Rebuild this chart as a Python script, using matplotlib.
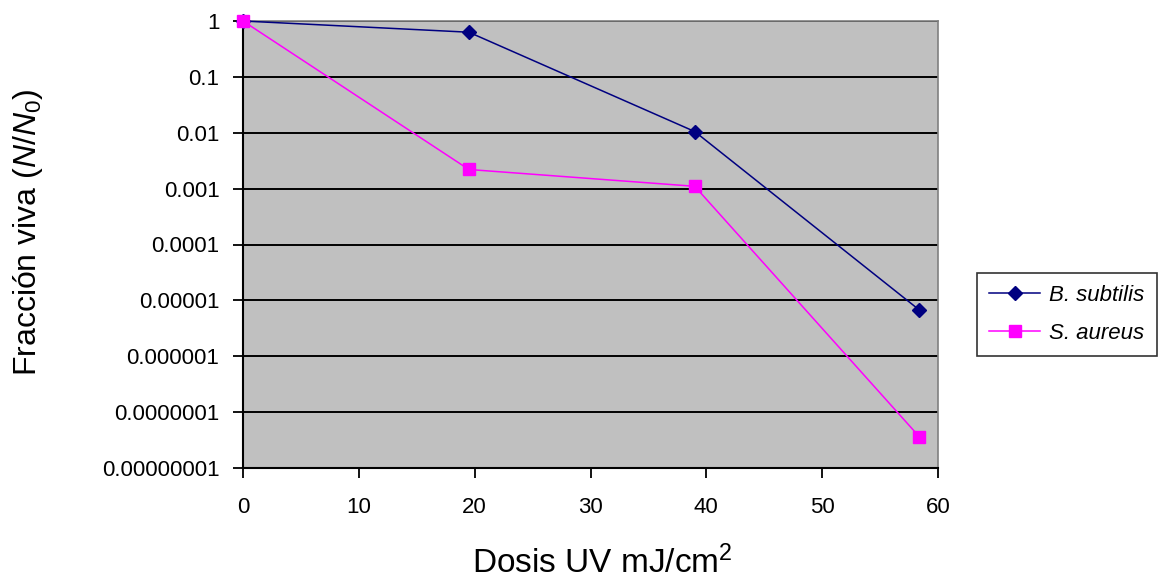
import matplotlib
matplotlib.use("Agg")
import matplotlib.pyplot as plt
from matplotlib.ticker import FixedLocator, FixedFormatter, NullLocator

plt.rcParams['font.family'] = ['Liberation Sans', 'DejaVu Sans']
plt.rcParams['mathtext.fontset'] = 'custom'
plt.rcParams['mathtext.rm'] = 'Liberation Sans'
plt.rcParams['mathtext.it'] = 'Liberation Sans:italic'

dose = [0, 19.5, 39, 58.4]
b_subtilis = [1.0, 0.63, 0.0105, 6.7e-6]
s_aureus = [1.0, 0.0022, 0.0011, 3.6e-8]
series_names = ["B. subtilis", "S. aureus"]
y_ticks = [1, 0.1, 0.01, 0.001, 0.0001, 0.00001, 0.000001, 0.0000001, 0.00000001]
y_tick_labels = ["1", "0.1", "0.01", "0.001", "0.0001", "0.00001", "0.000001",
                 "0.0000001", "0.00000001"]
x_ticks = [0, 10, 20, 30, 40, 50, 60]

fig = plt.figure(figsize=(11.58, 5.82), dpi=100)
ax = fig.add_axes([243/1158, 1-468/582, (938-243)/1158, (468-21)/582])
ax.set_facecolor('#C0C0C0')
ax.set_yscale('log')
ax.set_xlim(0, 60)
ax.set_ylim(1e-8, 1)

for yv in y_ticks:
    ax.axhline(yv, color='black', lw=1.4, zorder=1)

ax.plot(dose, b_subtilis, color='#000080', marker='D', markersize=7.5, lw=1.1,
        label=series_names[0], zorder=3, clip_on=False)
ax.plot(dose, s_aureus, color='#FF00FF', marker='s', markersize=8, lw=1.1,
        label=series_names[1], zorder=3, clip_on=False)

ax.yaxis.set_major_locator(FixedLocator(y_ticks))
ax.yaxis.set_major_formatter(FixedFormatter(y_tick_labels))
ax.yaxis.set_minor_locator(NullLocator())
ax.set_xticks(x_ticks)
ax.set_xticklabels([str(v) for v in x_ticks])
ax.tick_params(axis='both', direction='out', length=7, width=1.3, color='black',
               labelsize=16)
ax.tick_params(axis='y', pad=10)
ax.tick_params(axis='x', pad=14)

for s in ['left', 'bottom']:
    ax.spines[s].set_color('black')
    ax.spines[s].set_linewidth(1.5)
for s in ['top', 'right']:
    ax.spines[s].set_color('#808080')
    ax.spines[s].set_linewidth(1.2)

ax.set_xlabel(r'Dosis UV mJ/cm$^2$', fontsize=24)
ax.set_ylabel(r'Fracción viva $\mathit{(N/N_0)}$', fontsize=23)
ax.xaxis.label.set_va('center')
ax.yaxis.label.set_va('center')
ax.xaxis.set_label_coords((602-243)/695, -(563-468)/447)
ax.yaxis.set_label_coords(-(243-28)/695, (468-232)/447)

leg = fig.legend(loc='upper left', bbox_to_anchor=(977/1158, 1-273/582),
                 frameon=True, fancybox=False, edgecolor='black',
                 prop={'style': 'italic', 'size': 16}, handlelength=2.3,
                 borderpad=0.55, labelspacing=0.75, handletextpad=0.4,
                 borderaxespad=0)
leg.get_frame().set_linewidth(1.2)

fig.savefig('out.png', dpi=100)
